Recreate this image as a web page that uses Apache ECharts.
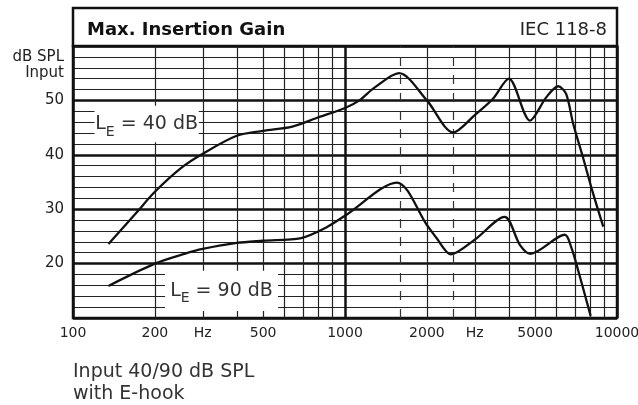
<!DOCTYPE html>
<html><head><meta charset="utf-8">
<script src="https://cdn.jsdelivr.net/npm/echarts@6/dist/echarts.min.js"></script>
<style>html,body{margin:0;padding:0;background:#fff}#c{width:638px;height:405px}</style>
</head><body><div id="c"></div>
<script>
// ---- data ----
const freqUpper = [135, 170, 200, 250, 300, 400, 500, 640, 800, 1000, 1130, 1280, 1580, 2000, 2500, 3000, 3500, 4000, 4790, 5500, 6080, 6500, 6900, 7500, 8100, 8900];
const gainUpper = [23.6, 29.2, 33.2, 37.6, 40.2, 43.5, 44.4, 45.2, 46.9, 48.6, 50.0, 52.3, 55.0, 50.0, 44.1, 47.3, 50.3, 54.0, 46.3, 50.6, 52.6, 51.2, 45.7, 39.5, 33.5, 26.8];
const freqLower = [135, 200, 257, 300, 400, 500, 690, 850, 1000, 1550, 2000, 2170, 2450, 3000, 3860, 4400, 4800, 6430, 6800, 7130, 8000];
const gainLower = [15.9, 20.0, 21.8, 22.7, 23.8, 24.2, 24.7, 26.6, 28.8, 34.9, 27.1, 24.7, 21.7, 24.4, 28.6, 23.4, 21.8, 25.3, 22.9, 19.5, 10.4];
const gridFreqs = [200, 300, 400, 500, 600, 700, 800, 900, 2000, 3000, 4000, 5000, 6000, 7000, 8000, 9000];
const dashedFreqs = [1600, 2500];
const tickFreqs = [100, 200, 300, 500, 1000, 2000, 3000, 5000, 10000];
const tickLabels = ['100', '200', 'Hz', '500', '1000', '2000', 'Hz', '5000', '10000'];
const levels = [40, 90];
// label box extents in data units
const boxFreqMin = [120, 218];
const boxFreqMax = [290, 567];
const boxDbMin = [42.3, 11.3];
const boxDbMax = [49.0, 18.7];

const FONT = 'DejaVu Sans';
const chart = echarts.init(document.getElementById('c'), null, {renderer: 'canvas'});
const option = {
  animation: false,
  backgroundColor: '#fff',
  title: [
    {text: 'Max. Insertion Gain', left: 87, top: 21, padding: 0,
     textStyle: {fontFamily: FONT, fontWeight: 'bold', fontSize: 18, color: '#111'}},
    {text: 'IEC 118-8', right: 31, top: 21, padding: 0,
     textStyle: {fontFamily: FONT, fontWeight: 'normal', fontSize: 18, color: '#222'}}
  ],
  graphic: [
    {type: 'rect', z: 0, shape: {x: 73, y: 8, width: 544, height: 38},
     style: {fill: '#fff', stroke: '#111', lineWidth: 2.5}},
    {type: 'text', x: 64, y: 65,
     style: {text: 'dB SPL\nInput', font: '15px "DejaVu Sans"', fill: '#222', lineHeight: 16,
              align: 'right', textAlign: 'right', verticalAlign: 'middle', textVerticalAlign: 'middle'}},
    {type: 'text', x: 73, y: 361,
     style: {text: 'Input 40/90 dB SPL\nwith E-hook', font: '19px "DejaVu Sans"', fill: '#333', lineHeight: 22,
              align: 'left', textAlign: 'left', verticalAlign: 'top', textVerticalAlign: 'top'}}
  ],
  grid: {left: 73, top: 46, width: 544, height: 272, show: true, borderColor: '#111', borderWidth: 2.5, backgroundColor: 'transparent'},
  xAxis: {
    type: 'log', logBase: 10, min: 100, max: 10000,
    axisLine: {show: false}, axisTick: {show: false}, axisLabel: {show: false},
    splitLine: {show: true, lineStyle: {color: '#111', width: 2.5}}
  },
  yAxis: {
    type: 'value', min: 10, max: 60, interval: 10,
    axisLine: {show: false}, axisTick: {show: false},
    axisLabel: {margin: 9, fontSize: 15, color: '#222', fontFamily: FONT,
                formatter: v => (v === 10 || v === 60) ? '' : String(v)},
    splitLine: {show: true, lineStyle: {color: '#111', width: 2.5}},
    minorTick: {show: false, splitNumber: 5},
    minorSplitLine: {show: true, lineStyle: {color: '#222', width: 1}}
  },
  series: [
    {
      type: 'line', name: 'LE 40 dB', z: 3,
      data: freqUpper.map((f, i) => [f, gainUpper[i]]),
      smooth: 0.3, symbol: 'none',
      lineStyle: {color: '#111', width: 2.3},
      markLine: {
        silent: true, z: 0.5, symbol: ['none', 'none'], label: {show: false},
        lineStyle: {color: '#222', width: 1.2, type: 'solid'},
        data: gridFreqs.map(f => ({xAxis: f}))
          .concat(dashedFreqs.map(f => ({xAxis: f, lineStyle: {type: [9, 9], color: '#333', width: 1.2}})))
      },
      markArea: {
        silent: true, z: 1,
        itemStyle: {color: '#fff'},
        label: {
          show: true, position: 'inside',
          formatter: p => '{a|L}{b|E}{a| = ' + p.name + ' dB}',
          rich: {
            a: {fontFamily: FONT, fontSize: 19, color: '#333', lineHeight: 30},
            b: {fontFamily: FONT, fontSize: 14, color: '#333', lineHeight: 14, verticalAlign: 'bottom'}
          }
        },
        data: levels.map((lv, i) => [
          {name: String(lv), xAxis: boxFreqMin[i], yAxis: boxDbMin[i]},
          {xAxis: boxFreqMax[i], yAxis: boxDbMax[i]}
        ])
      }
    },
    {
      type: 'line', name: 'LE 90 dB', z: 3,
      data: freqLower.map((f, i) => [f, gainLower[i]]),
      smooth: 0.3, symbol: 'none',
      lineStyle: {color: '#111', width: 2.3},
      markLine: {
        silent: true, z: 4, symbol: ['none', 'none'],
        lineStyle: {color: 'rgba(0,0,0,0)', width: 0, opacity: 0},
        label: {show: true, position: 'start', distance: 8, formatter: '{b}', opacity: 1,
                fontFamily: FONT, fontSize: 14, color: '#222'},
        data: tickFreqs.map((f, i) => ({xAxis: f, name: tickLabels[i]}))
      }
    }
  ]
};
chart.setOption(option);
</script>
</body></html>
